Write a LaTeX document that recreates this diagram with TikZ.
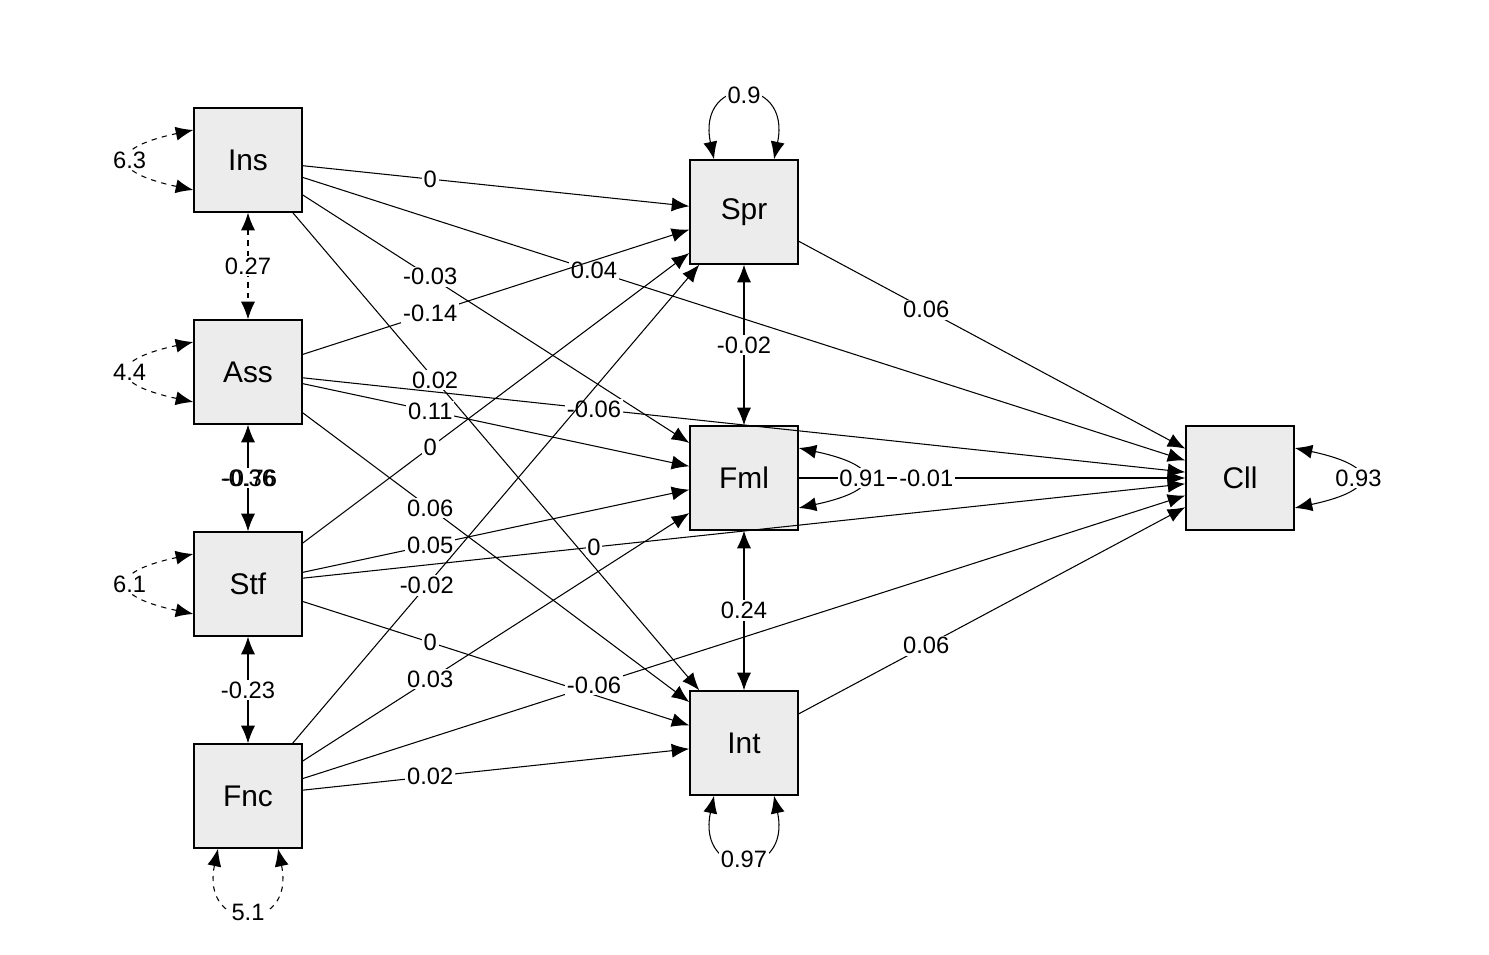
\documentclass[tikz,border=0pt]{standalone}
\usepackage{fontspec}
\setmainfont{Liberation Sans}
\usetikzlibrary{positioning, arrows.meta}
\tikzset{
  var/.style = {rectangle, draw, thick, fill=gray!15, minimum width=2.16cm,
    minimum height=2.08cm, font=\fontsize{17}{17}\selectfont},
  path/.style = {draw, semithick, -{Latex[length=10pt,width=8pt]}},
  cov/.style = {draw, semithick, {Latex[length=10pt,width=8pt]}-{Latex[length=10pt,width=8pt]}},
  num/.style = {inner sep=1pt, font=\fontsize{13.5}{13.5}\selectfont},
  lab/.style = {num, pos=0.33, fill=white},
  mid/.style = {lab, pos=0.5}
}
\begin{document}
\begin{tikzpicture}[x=0.02cm, y=-0.02cm]
  \useasboundingbox (0,0) rectangle (1489,955);
  % exogenous
  \node [var] (ins) at (248,160) {Ins};
  \node [var] (ass) at (248,372) {Ass};
  \node [var] (stf) at (248,584) {Stf};
  \node [var] (fnc) at (248,796) {Fnc};
  % mediators and outcome
  \node [var] (spr) at (744,212) {Spr};
  \node [var] (fml) at (744,478) {Fml};
  \node [var] (int) at (744,743) {Int};
  \node [var] (cll) at (1240,478) {Cll};
  % paths from Ins
  \path [path] (ins) -- node [lab] {0} (spr);
  \path [path] (ins) -- node [lab] {-0.03} (fml);
  \path [path] (ins) -- node [lab] {0.04} (cll);
  \path [path] (ins) -- node [lab, pos=0.35] {0.02} (int);
  % paths from Ass
  \path [path] (ass) -- node [lab] {-0.14} (spr);
  \path [path] (ass) -- node [lab] {0.11} (fml);
  \path [path] (ass) -- node [lab] {-0.06} (cll);
  \path [path] (ass) -- node [lab] {0.06} (int);
  % paths from Stf
  \path [path] (stf) -- node [lab] {0} (spr);
  \path [path] (stf) -- node [lab] {0.05} (fml);
  \path [path] (stf) -- node [lab] {0} (cll);
  \path [path] (stf) -- node [lab] {0} (int);
  % paths from Fnc
  \path [path] (fnc) -- node [lab] {-0.02} (spr);
  \path [path] (fnc) -- node [lab] {0.03} (fml);
  \path [path] (fnc) -- node [lab] {-0.06} (cll);
  \path [path] (fnc) -- node [lab] {0.02} (int);
  % paths to Cll
  \path [path] (spr) -- node [lab] {0.06} (cll);
  \path [path] (fml) -- node [lab] {-0.01} (cll);
  \path [path] (int) -- node [lab] {0.06} (cll);
  % covariances
  \path [cov, dashed] (ins) -- node [mid] {0.27} (ass);
  \path [cov] (ass) -- (stf);
  \node [num, fill=white] (c1) at (248,478) {-0.36};
  \node [num] (c2) at (250,478) {-0.76};
  \path [cov] (stf) -- node [mid] {-0.23} (fnc);
  \path [cov] (spr) -- node [mid] {-0.02} (fml);
  \path [cov] (fml) -- node [mid] {0.24} (int);
  % variances
  \path [cov, dashed] ([yshift=-0.6cm]ins.west) .. controls +(-85,-18) and +(-85,18) ..
    node [mid] {6.3} ([yshift=0.6cm]ins.west);
  \path [cov, dashed] ([yshift=-0.6cm]ass.west) .. controls +(-85,-18) and +(-85,18) ..
    node [mid] {4.4} ([yshift=0.6cm]ass.west);
  \path [cov, dashed] ([yshift=-0.6cm]stf.west) .. controls +(-85,-18) and +(-85,18) ..
    node [mid] {6.1} ([yshift=0.6cm]stf.west);
  \path [cov, dashed] ([xshift=-0.6cm]fnc.south) .. controls +(-18,85) and +(18,85) ..
    node [mid] {5.1} ([xshift=0.6cm]fnc.south);
  \path [cov] ([xshift=-0.6cm]spr.north) .. controls +(-18,-85) and +(18,-85) ..
    node [mid] {0.9} ([xshift=0.6cm]spr.north);
  \path [cov] ([yshift=-0.6cm]fml.east) .. controls +(85,-18) and +(85,18) ..
    node [mid] {0.91} ([yshift=0.6cm]fml.east);
  \path [cov] ([xshift=-0.6cm]int.south) .. controls +(-18,85) and +(18,85) ..
    node [mid] {0.97} ([xshift=0.6cm]int.south);
  \path [cov] ([yshift=-0.6cm]cll.east) .. controls +(85,-18) and +(85,18) ..
    node [mid] {0.93} ([yshift=0.6cm]cll.east);
\end{tikzpicture}
\end{document}
